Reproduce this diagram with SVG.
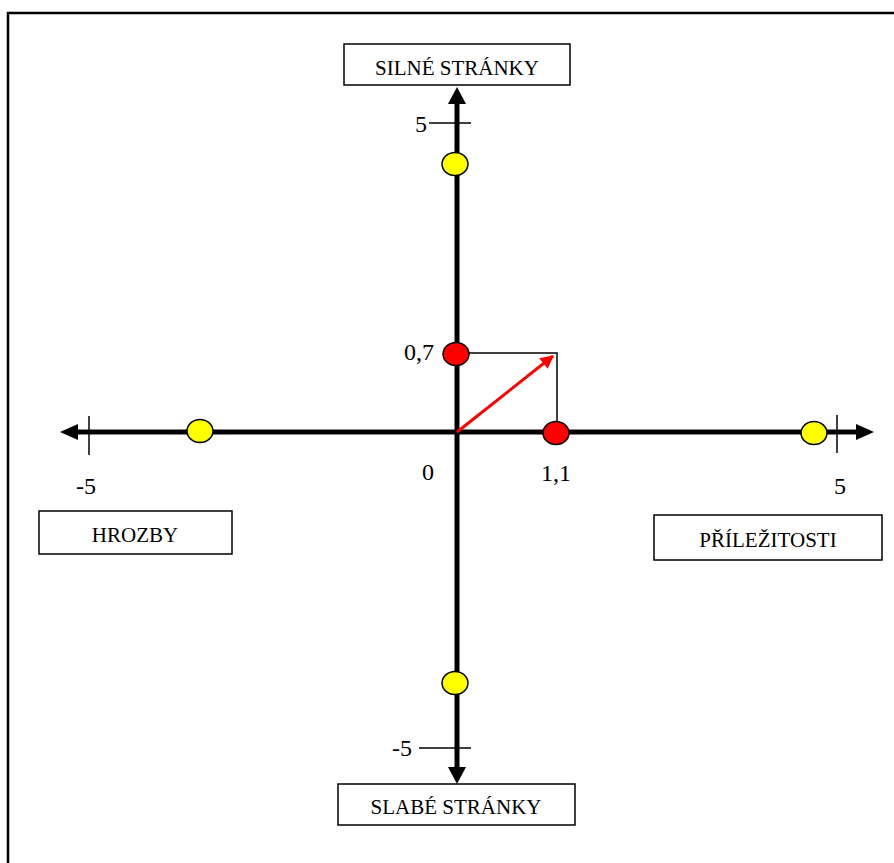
<svg xmlns="http://www.w3.org/2000/svg" width="894" height="863" viewBox="0 0 894 863">
<style>
text{font-family:"Liberation Serif","Times New Roman",serif;font-size:21px;fill:#000}
text.num{font-size:24px}
.box{fill:#fff;stroke:#000;stroke-width:1.5}
.axis{stroke:#000;stroke-width:5;fill:none}
.thin{stroke:#000;stroke-width:1.5;fill:none}
.yel{fill:#ffff00;stroke:#000;stroke-width:1.5}
.red{fill:#ff0000;stroke:#000;stroke-width:1.5}
</style>
<defs>
<marker id="ra" viewBox="0 0 10 10" refX="9" refY="5" markerWidth="5" markerHeight="4.5" orient="auto" markerUnits="strokeWidth">
<path d="M0,0 L10,5 L0,10 z" fill="#ff0000"/>
</marker>
</defs>
<rect width="894" height="863" fill="#fff"/>
<path d="M8,863 V13 H894" fill="none" stroke="#000" stroke-width="2.5"/>
<g id="connectors">
<line class="axis" x1="457" y1="100" x2="457" y2="770"/>
<polygon points="457,87 448,104 466,104"/>
<polygon points="457,784 448,767 466,767"/>
<line class="axis" x1="75" y1="432" x2="860" y2="432"/>
<polygon points="60,432 78,424 78,440"/>
<polygon points="874,432 856,424 856,440"/>
<line class="thin" x1="429" y1="123" x2="471" y2="123"/>
<line class="thin" x1="419" y1="748" x2="471" y2="748"/>
<line class="thin" x1="89" y1="416" x2="89" y2="455"/>
<line class="thin" x1="837" y1="415" x2="837" y2="453"/>
<polyline class="thin" points="469,353 557,353 557,422"/>
<line x1="457" y1="432" x2="553" y2="356" stroke="#ff0000" stroke-width="3" marker-end="url(#ra)"/>
</g>
<g id="node-silne"><rect class="box" x="344" y="44" width="226" height="41"/><text x="457" y="75" text-anchor="middle">SILNÉ STRÁNKY</text></g>
<g id="node-slabe"><rect class="box" x="338" y="784" width="237" height="41"/><text x="456" y="814" text-anchor="middle">SLABÉ STRÁNKY</text></g>
<g id="node-hrozby"><rect class="box" x="39" y="511" width="193" height="43"/><text x="135" y="542" text-anchor="middle">HROZBY</text></g>
<g id="node-prilezitosti"><rect class="box" x="654" y="515" width="228" height="45"/><text x="768" y="547" text-anchor="middle">PŘÍLEŽITOSTI</text></g>
<g id="labels">
<text class="num" x="427" y="132" text-anchor="end">5</text>
<text class="num" x="412" y="756" text-anchor="end">-5</text>
<text class="num" x="86" y="494" text-anchor="middle">-5</text>
<text class="num" x="840" y="494" text-anchor="middle">5</text>
<text class="num" x="428" y="480" text-anchor="middle">0</text>
<text class="num" x="556" y="481" text-anchor="middle">1,1</text>
<text class="num" x="434" y="360" text-anchor="end">0,7</text>
</g>
<g id="points">
<ellipse class="yel" cx="455" cy="164" rx="13" ry="11.5"/>
<ellipse class="yel" cx="455" cy="683" rx="13" ry="11.5"/>
<ellipse class="yel" cx="200" cy="431" rx="13" ry="11.5"/>
<ellipse class="yel" cx="814" cy="433" rx="13" ry="11.5"/>
<ellipse class="red" cx="456" cy="354" rx="13" ry="11.5"/>
<ellipse class="red" cx="556" cy="433" rx="13" ry="11.5"/>
</g>
</svg>
